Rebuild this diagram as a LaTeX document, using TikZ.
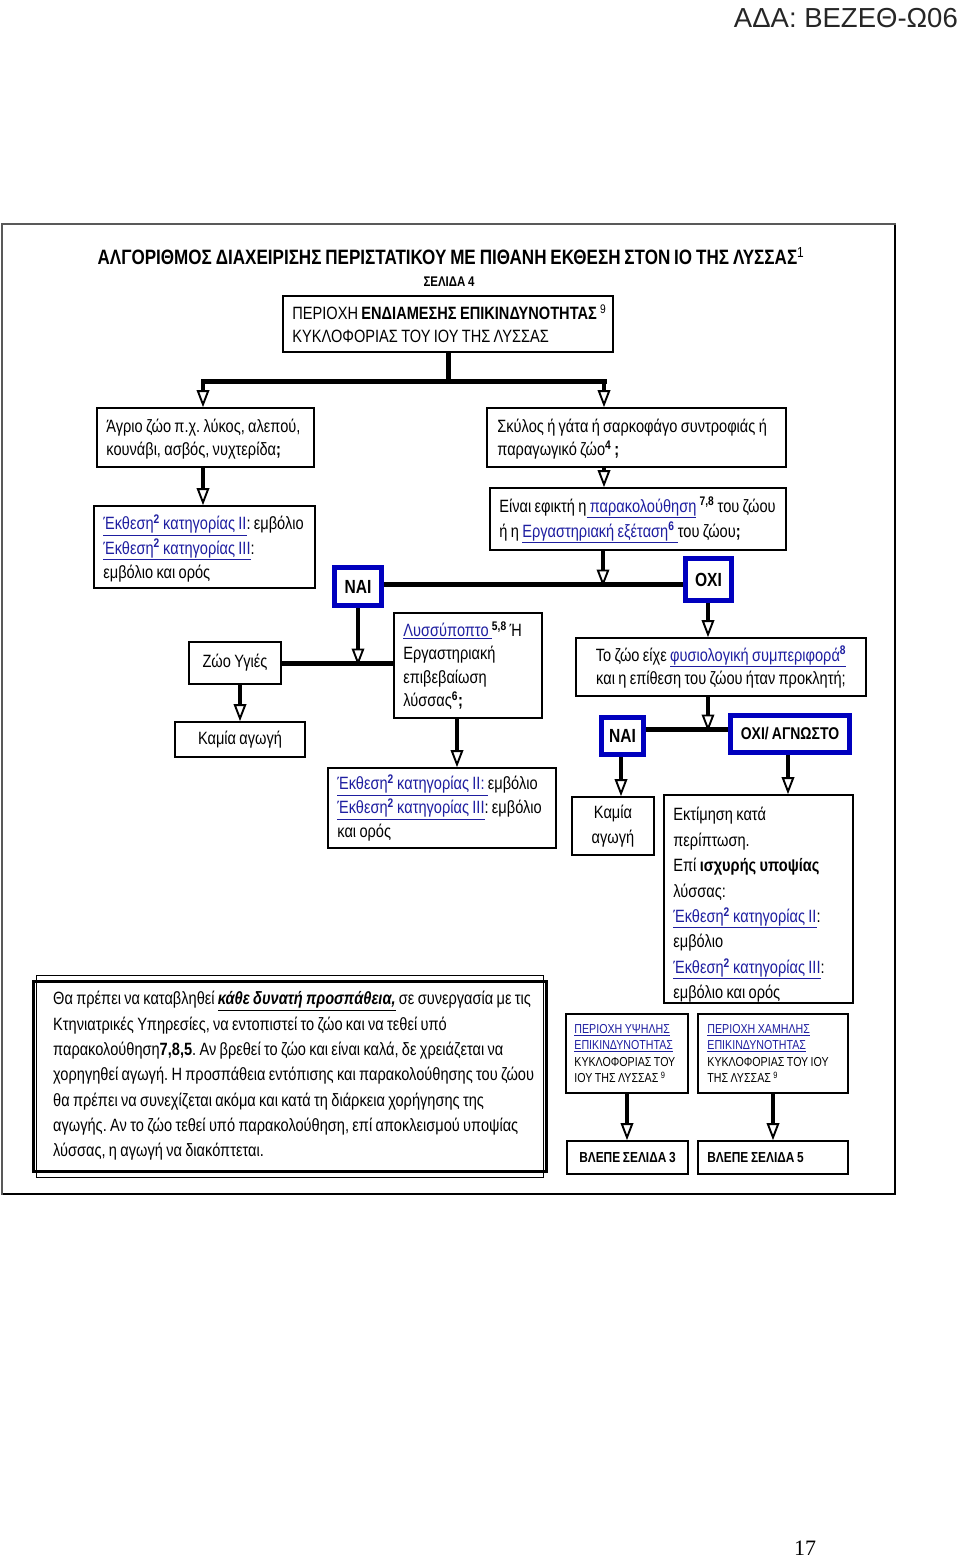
\documentclass[tikz,border=0pt]{standalone}
\usepackage{fontspec}
\setmainfont{Liberation Sans}[FakeStretch=0.82, WordSpace=0.82]
\newfontfamily\arialfont{Liberation Sans}
\newfontfamily\timesfont{Liberation Serif}
\usetikzlibrary{arrows.meta}
\definecolor{lblue}{RGB}{30,30,160}
\definecolor{bblue}{RGB}{0,0,190}
\newcommand{\lnk}[1]{\textcolor{lblue}{\underline{#1}}}
\newcommand{\sups}[1]{\textsuperscript{\textbf{#1}}}
\frenchspacing
\tikzset{
  box/.style={draw, line width=1.6pt, inner sep=0pt, font=\fontsize{17.8}{24}\selectfont},
  txt/.style={inner sep=0pt, align=left, anchor=west},
  blu/.style={draw=bblue, line width=5pt, inner sep=0pt, font=\bfseries\fontsize{19}{24}\selectfont},
  arr/.style={line width=4pt, -{Triangle[open,length=17pt,width=12.5pt,line width=1.9pt]}},
  bar/.style={line width=5pt},
  jline/.style={line width=5pt},
}
\begin{document}
\begin{tikzpicture}[x=1pt,y=-1pt]
\useasboundingbox (0,0) rectangle (960,1557);
% header and page number
\node[anchor=east, inner sep=0, font=\arialfont\fontsize{27.5}{30}\selectfont, text=black!85] (hdr) at (958,18) {ΑΔΑ: ΒΕΖΕΘ-Ω06};
\node[inner sep=0, font=\timesfont\fontsize{22}{24}\selectfont] (pg) at (805,1548) {17};
% outer frame
\draw[line width=1.5pt, black!65] (2,224) rectangle (895,1194);
\draw[line width=2.5pt] (3,1194) -- (895,1194) -- (895,225);
% title
\node[font=\bfseries\fontsize{20.8}{24}\selectfont] (title) at (451,256) {ΑΛΓΟΡΙΘΜΟΣ ΔΙΑΧΕΙΡΙΣΗΣ ΠΕΡΙΣΤΑΤΙΚΟΥ ΜΕ ΠΙΘΑΝΗ ΕΚΘΕΣΗ ΣΤΟΝ ΙΟ ΤΗΣ ΛΥΣΣΑΣ\textsuperscript{\mdseries 1}};
\node[font=\bfseries\fontsize{14}{18}\selectfont] (page4) at (449,282) {ΣΕΛΙΔΑ 4};
% top box
\node[box, minimum width=330, minimum height=56] (top) at (448,324) {};
\node[txt, font=\fontsize{17.8}{23}\selectfont] (top-t) at ([xshift=10]top.west)
  {ΠΕΡΙΟΧΗ \textbf{ΕΝΔΙΑΜΕΣΗΣ ΕΠΙΚΙΝΔΥΝΟΤΗΤΑΣ} \textsuperscript{9}\\ΚΥΚΛΟΦΟΡΙΑΣ ΤΟΥ ΙΟΥ ΤΗΣ ΛΥΣΣΑΣ};
% wild animal
\node[box, minimum width=217, minimum height=59] (wild) at (205.5,437.5) {};
\node[txt, font=\fontsize{17.8}{22.5}\selectfont] (wild-t) at ([xshift=10,yshift=-1.5]wild.west)
  {Άγριο ζώο π.χ. λύκος, αλεπού,\\κουνάβι, ασβός, νυχτερίδα\textbf{;}};
% pet
\node[box, minimum width=299, minimum height=59] (pet) at (636.5,437.5) {};
\node[txt, font=\fontsize{17.8}{23}\selectfont] (pet-t) at ([xshift=11,yshift=-1.5]pet.west)
  {Σκύλος ή γάτα ή σαρκοφάγο συντροφιάς ή\\παραγωγικό ζώο\sups{4}\,\textbf{;}};
% exposure 1
\node[box, minimum width=221, minimum height=82] (exp1) at (204.5,547) {};
\node[txt, font=\fontsize{17.8}{24.5}\selectfont] (exp1-t) at ([xshift=10,yshift=-1.5]exp1.west)
  {\lnk{Έκθεση\sups{2} κατηγορίας II}: εμβόλιο\\\lnk{Έκθεση\sups{2} κατηγορίας III}:\\εμβόλιο και ορός};
% feasible observation
\node[box, minimum width=296, minimum height=62] (feas) at (638,519) {};
\node[txt, font=\fontsize{17.8}{25}\selectfont] (feas-t) at ([xshift=10,yshift=-1]feas.west)
  {Είναι εφικτή η\lnk{ παρακολούθηση} \textsuperscript{\textbf{7,8}} του ζώου\\ή η \lnk{Εργαστηριακή εξέταση\sups{6} }του ζώου\textbf{;}};
% yes / no
\node[blu, minimum width=47, minimum height=38] (nai1) at (358,586.5) {ΝΑΙ};
\node[blu, minimum width=46, minimum height=42] (oxi1) at (708.5,579.5) {ΟΧΙ};
% healthy
\node[box, minimum width=92, minimum height=42] (healthy) at (235,663) {Ζώο Υγιές};
\node[box, minimum width=130, minimum height=35] (notreat1) at (240,739.5) {Καμία αγωγή};
% suspicious
\node[box, minimum width=148, minimum height=105] (susp) at (468,665.5) {};
\node[txt, font=\fontsize{17.8}{23.3}\selectfont] (susp-t) at ([xshift=10]susp.west)
  {\lnk{Λυσσύποπτο }\textsuperscript{\textbf{5,8}}\,Ή\\Εργαστηριακή\\επιβεβαίωση\\λύσσας\sups{6}\textbf{;}};
% exposure 2
\node[box, minimum width=228, minimum height=80] (exp2) at (442,808) {};
\node[txt, font=\fontsize{17.8}{24}\selectfont] (exp2-t) at ([xshift=10]exp2.west)
  {\lnk{Έκθεση\sups{2} κατηγορίας II: }εμβόλιο\\\lnk{Έκθεση\sups{2} κατηγορίας III}: εμβόλιο\\και ορός};
% behaviour
\node[box, minimum width=290, minimum height=58, align=center, font=\fontsize{17.8}{23}\selectfont] (behav) at (721,667)
  {Το ζώο είχε \lnk{φυσιολογική συμπεριφορά\sups{8}}\\και η επίθεση του ζώου ήταν προκλητή;};
\node[blu, minimum width=42, minimum height=37] (nai2) at (622.5,736) {ΝΑΙ};
\node[blu, minimum width=119, minimum height=37, font=\bfseries\fontsize{17}{20}\selectfont] (oxiu) at (790,734) {ΟΧΙ/ ΑΓΝΩΣΤΟ};
\node[box, minimum width=82, minimum height=58, align=center, font=\fontsize{17.8}{25}\selectfont] (notreat2) at (613,826) {Καμία\\αγωγή};
% estimate
\node[box, minimum width=189, minimum height=208] (estim) at (758.5,899) {};
\node[txt, font=\fontsize{17.8}{25.4}\selectfont] (estim-t) at ([xshift=10,yshift=-6]estim.west)
  {Εκτίμηση κατά\\περίπτωση.\\Επί \textbf{ισχυρής υποψίας}\\λύσσας:\\\lnk{Έκθεση\sups{2} κατηγορίας II}:\\εμβόλιο\\\lnk{Έκθεση\sups{2} κατηγορίας III}:\\εμβόλιο και ορός};
% areas
\node[box, minimum width=122, minimum height=79] (high) at (627,1053.5) {};
\node[txt, font=\fontsize{13}{16.5}\selectfont] (high-t) at ([xshift=9]high.west)
  {\lnk{ΠΕΡΙΟΧΗ ΥΨΗΛΗΣ}\\\lnk{ΕΠΙΚΙΝΔΥΝΟΤΗΤΑΣ}\\ΚΥΚΛΟΦΟΡΙΑΣ ΤΟΥ\\ΙΟΥ ΤΗΣ ΛΥΣΣΑΣ \textsuperscript{9}};
\node[box, minimum width=150, minimum height=79] (low) at (773,1053.5) {};
\node[txt, font=\fontsize{13}{16.5}\selectfont] (low-t) at ([xshift=10]low.west)
  {\lnk{ΠΕΡΙΟΧΗ ΧΑΜΗΛΗΣ}\\\lnk{ΕΠΙΚΙΝΔΥΝΟΤΗΤΑΣ}\\ΚΥΚΛΟΦΟΡΙΑΣ ΤΟΥ ΙΟΥ\\ΤΗΣ ΛΥΣΣΑΣ \textsuperscript{9}};
\node[box, minimum width=121, minimum height=33, font=\bfseries\fontsize{14.5}{18}\selectfont] (see3) at (627.5,1157.5) {ΒΛΕΠΕ ΣΕΛΙΔΑ 3};
\node[box, minimum width=150, minimum height=33] (see5) at (773,1157.5) {};
\node[txt, font=\bfseries\fontsize{14.5}{18}\selectfont] (see5-t) at ([xshift=10]see5.west) {ΒΛΕΠΕ ΣΕΛΙΔΑ 5};
% note box (double border)
\node[draw, line width=3pt, inner sep=0pt, minimum width=513, minimum height=190] (note) at (290,1076) {};
\draw[line width=1pt] ([shift={(4.5,-4.5)}]note.north west) rectangle ([shift={(-4.5,4.5)}]note.south east);
\node[txt, font=\fontsize{17.8}{25.3}\selectfont] (note-t) at ([xshift=21]note.west)
  {Θα πρέπει να καταβληθεί \underline{\textbf{\textit{κάθε δυνατή προσπάθεια,}}} σε συνεργασία με τις\\
   Κτηνιατρικές Υπηρεσίες, να εντοπιστεί το ζώο και να τεθεί υπό\\
   παρακολούθηση\textbf{7,8,5}. Αν βρεθεί το ζώο και είναι καλά, δε χρειάζεται να\\
   χορηγηθεί αγωγή. Η προσπάθεια εντόπισης και παρακολούθησης του ζώου\\
   θα πρέπει να συνεχίζεται ακόμα και κατά τη διάρκεια χορήγησης της\\
   αγωγής. Αν το ζώο τεθεί υπό παρακολούθηση, επί αποκλεισμού υποψίας\\
   λύσσας, η αγωγή να διακόπτεται.};
% connectors
\coordinate (j0) at (448,381);
\coordinate (jl) at (203,381);
\coordinate (jr) at (604,381);
\draw[bar] (top.south) -- (j0);
\draw[bar, line cap=rect] (jl) -- (jr);
\draw[arr] (jl) -- (jl |- wild.north);
\draw[arr] (jr) -- (jr |- pet.north);
\coordinate (wa) at (203,468);
\draw[arr] (wild.south -| wa) -- (wa |- exp1.north);
\coordinate (pa) at (604,468);
\draw[arr] (pet.south -| pa) -- (pa |- feas.north);
% NAI / OXI line
\coordinate (m1) at (603,584);
\draw[jline] (nai1.east |- m1) -- (oxi1.west |- m1);
\draw[arr] (feas.south -| m1) -- ([yshift=-2.5]m1);
% healthy / suspicious line
\coordinate (m2) at (358,663);
\draw[jline] (healthy.east |- m2) -- (susp.west |- m2);
\draw[arr] (nai1.south) -- ([yshift=-2.5]m2);
\coordinate (ha) at (240,684);
\draw[arr] (healthy.south -| ha) -- (ha |- notreat1.north);
\coordinate (sa) at (457,718);
\draw[arr] (susp.south -| sa) -- (sa |- exp2.north);
\coordinate (oa) at (708,603);
\draw[arr] (oxi1.south -| oa) -- (oa |- behav.north);
% NAI2 / OXI-unknown line
\coordinate (m3) at (708,729);
\draw[jline] (nai2.east |- m3) -- (oxiu.west |- m3);
\draw[arr] (behav.south -| m3) -- ([yshift=-2.5]m3);
\coordinate (na) at (621,757);
\draw[arr] (nai2.south -| na) -- (na |- notreat2.north);
\coordinate (ua) at (788,755);
\draw[arr] (oxiu.south -| ua) -- (ua |- estim.north);
\draw[arr] (high.south) -- (see3.north -| high.south);
\draw[arr] (low.south) -- (see5.north -| low.south);
\end{tikzpicture}
\end{document}
